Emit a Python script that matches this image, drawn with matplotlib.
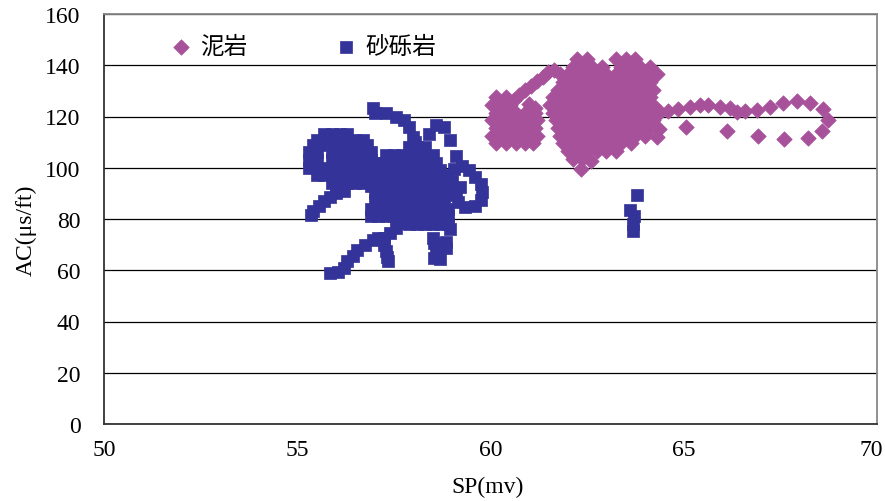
import matplotlib
matplotlib.use('Agg')
import matplotlib.pyplot as plt
from matplotlib.font_manager import FontProperties
from matplotlib.transforms import ScaledTranslation

# ---------------- data (SP in mv, AC in us/ft) ----------------
# 泥岩 (mudstone) - left blob
mud_left = [
    (60.15, 127.5), (60.4, 127.5),
    (60.05, 124.5), (60.3, 124.5), (60.5, 124.5), (61.0, 125.0), (61.15, 123.5),
    (60.15, 121.5), (60.4, 121.5), (60.65, 121.5), (60.9, 121.5), (61.15, 121.5),
    (60.05, 118.5), (60.3, 118.5), (60.55, 118.5), (60.8, 118.5), (61.05, 118.5), (61.2, 118.5),
    (60.15, 115.5), (60.4, 115.5), (60.65, 115.5), (60.9, 115.5), (61.15, 115.5),
    (60.05, 112.5), (60.3, 112.5), (60.55, 112.5), (60.8, 112.5), (61.05, 112.5), (61.2, 112.5),
    (60.15, 109.8), (60.4, 109.8), (60.65, 109.8), (60.9, 109.8), (61.1, 109.8),
]
# 泥岩 - diagonal arm
mud_arm = [
    (60.6, 126.5), (60.75, 128.5), (60.9, 130.3), (61.05, 132.0), (61.2, 133.8),
    (61.35, 135.5), (61.5, 137.2), (61.65, 138.0), (61.8, 136.5),
]
# 泥岩 - main blob
mud_main = [
    (62.25, 142.5), (62.5, 142.5), (63.25, 142.5), (63.5, 142.5), (63.75, 142.5),
    (62.125, 139.5), (62.375, 139.5), (62.625, 139.5), (62.875, 139.5), (63.375, 139.5),
    (63.625, 139.5), (63.875, 139.5), (64.125, 139.5),
    (62.0, 136.5), (62.25, 136.5), (62.5, 136.5), (62.75, 136.5), (63.0, 136.5), (63.25, 136.5),
    (63.5, 136.5), (63.75, 136.5), (64.0, 136.5), (64.3, 136.5),
    (61.875, 133.5), (62.125, 133.5), (62.375, 133.5), (62.625, 133.5), (62.875, 133.5),
    (63.125, 133.5), (63.375, 133.5), (63.625, 133.5), (63.875, 133.5), (64.125, 133.5),
    (61.75, 130.5), (62.0, 130.5), (62.25, 130.5), (62.5, 130.5), (62.75, 130.5), (63.0, 130.5),
    (63.25, 130.5), (63.5, 130.5), (63.75, 130.5), (64.0, 130.5), (64.2, 130.5),
    (61.625, 127.5), (61.875, 127.5), (62.125, 127.5), (62.375, 127.5), (62.625, 127.5),
    (62.875, 127.5), (63.125, 127.5), (63.375, 127.5), (63.625, 127.5), (63.875, 127.5), (64.125, 127.5),
    (61.55, 124.5), (61.75, 124.5), (62.0, 124.5), (62.25, 124.5), (62.5, 124.5), (62.75, 124.5),
    (63.0, 124.5), (63.25, 124.5), (63.5, 124.5), (63.75, 124.5), (64.0, 124.5), (64.2, 124.5),
    (61.625, 121.5), (61.875, 121.5), (62.125, 121.5), (62.375, 121.5), (62.625, 121.5),
    (62.875, 121.5), (63.125, 121.5), (63.375, 121.5), (63.625, 121.5), (63.875, 121.5), (64.125, 121.5),
    (61.7, 118.5), (62.0, 118.5), (62.25, 118.5), (62.5, 118.5), (62.75, 118.5), (63.0, 118.5),
    (63.25, 118.5), (63.5, 118.5), (63.75, 118.5), (64.0, 118.5), (64.2, 118.5),
    (61.75, 115.5), (61.875, 115.5), (62.125, 115.5), (62.375, 115.5), (62.625, 115.5),
    (62.875, 115.5), (63.125, 115.5), (63.375, 115.5), (63.625, 115.5), (63.875, 115.5),
    (64.125, 115.5), (64.35, 115.0),
    (61.8, 112.5), (62.0, 112.5), (62.25, 112.5), (62.5, 112.5), (62.75, 112.5), (63.0, 112.5),
    (63.25, 112.5), (63.5, 112.5), (63.75, 112.5), (64.0, 112.5), (64.3, 112.0),
    (61.875, 109.5), (62.125, 109.5), (62.375, 109.5), (62.625, 109.5), (62.875, 109.5),
    (63.125, 109.5), (63.375, 109.5), (63.625, 109.5),
    (62.0, 106.5), (62.25, 106.5), (62.5, 106.5), (62.75, 106.5), (63.0, 106.5), (63.25, 106.5),
    (62.125, 103.5), (62.375, 103.5), (62.6, 102.5), (62.35, 99.5),
]
# 泥岩 - tail to the right
mud_tail = [
    (64.39, 121.6), (64.60, 122.3), (64.86, 122.9), (65.16, 123.6), (65.42, 124.5),
    (65.64, 124.5), (65.94, 123.8), (66.20, 123.2), (66.37, 121.9), (66.58, 122.0),
    (66.89, 122.7), (67.23, 123.6), (67.58, 125.3), (67.92, 126.2), (68.27, 125.3),
    (68.59, 122.9), (68.74, 118.8), (68.57, 114.5), (68.22, 111.5), (67.59, 111.2),
    (66.93, 112.5), (66.11, 114.5), (65.06, 115.8),
]
mud_pts = mud_left + mud_arm + mud_main + mud_tail
mud_x = [p[0] for p in mud_pts]
mud_y = [p[1] for p in mud_pts]

# 砂砾岩 (glutenite) - left blob and tail
sand_left = [
    (55.7, 113), (55.9, 113), (56.1, 113), (56.3, 113),
    (55.5, 111), (55.7, 111), (55.9, 111), (56.1, 111), (56.3, 111), (56.5, 111), (56.7, 111),
    (55.4, 109), (55.6, 109), (56.0, 109), (56.2, 109), (56.4, 109), (56.6, 109), (56.8, 109),
    (55.3, 106), (55.5, 106), (55.9, 106), (56.1, 106), (56.3, 106), (56.5, 106), (56.7, 106), (56.9, 106),
    (55.3, 103), (55.5, 103), (55.9, 103), (56.1, 103), (56.3, 103), (56.5, 103), (56.7, 103), (56.9, 103),
    (55.3, 100), (55.5, 100), (55.7, 100), (55.9, 100), (56.1, 100), (56.3, 100), (56.5, 100),
    (56.7, 100), (56.9, 100),
    (55.5, 97), (55.7, 97), (55.9, 97), (56.1, 97), (56.3, 97), (56.5, 97), (56.7, 97),
    (55.9, 94), (56.1, 94), (56.3, 94), (56.5, 94), (56.7, 94),
    (56.0, 91), (56.2, 91),
    (56.0, 90), (55.85, 88.5), (55.7, 87), (55.55, 85), (55.42, 83), (55.35, 81.5),
]
# 砂砾岩 - top diagonal and small loop
sand_top = [
    (56.97, 123.5), (57.0, 121.5), (57.3, 121.5), (57.55, 120), (57.75, 118.5),
    (57.9, 116), (58.0, 112), (58.05, 110),
    (58.4, 113), (58.58, 116.5), (58.8, 116), (58.95, 111), (59.1, 104.5),
]
# 砂砾岩 - central blob
sand_center = [
    (57.9, 108), (58.1, 108), (58.3, 108),
    (57.3, 105), (57.5, 105), (57.7, 105), (57.9, 105), (58.1, 105), (58.3, 105), (58.5, 105),
    (57.0, 102), (57.2, 102), (57.4, 102), (57.6, 102), (57.8, 102), (58.0, 102), (58.2, 102),
    (58.4, 102), (58.6, 102),
    (56.9, 99), (57.1, 99), (57.3, 99), (57.5, 99), (57.7, 99), (57.9, 99), (58.1, 99), (58.3, 99),
    (58.5, 99), (58.7, 99),
    (56.9, 96), (57.1, 96), (57.3, 96), (57.5, 96), (57.7, 96), (57.9, 96), (58.1, 96), (58.3, 96),
    (58.5, 96), (58.7, 96),
    (56.9, 93), (57.1, 93), (57.3, 93), (57.5, 93), (57.7, 93), (57.9, 93), (58.1, 93), (58.3, 93),
    (58.5, 93), (58.7, 93), (58.9, 93),
    (57.0, 90), (57.2, 90), (57.4, 90), (57.6, 90), (57.8, 90), (58.0, 90), (58.2, 90), (58.4, 90),
    (58.6, 90), (58.8, 90),
    (57.0, 87), (57.2, 87), (57.4, 87), (57.6, 87), (57.8, 87), (58.0, 87), (58.2, 87), (58.4, 87),
    (58.6, 87), (58.8, 87),
    (56.9, 84), (57.1, 84), (57.3, 84), (57.5, 84), (57.7, 84), (57.9, 84), (58.1, 84), (58.3, 84),
    (58.5, 84), (58.7, 84), (58.9, 84),
    (56.9, 81), (57.1, 81), (57.3, 81), (57.5, 81), (57.7, 81), (57.9, 81), (58.1, 81), (58.3, 81),
    (58.5, 81), (58.7, 81), (58.9, 81),
    (57.9, 78), (58.1, 78), (58.3, 78), (58.5, 78), (58.7, 78), (58.9, 78), (58.95, 76),
]
# 砂砾岩 - right loop
sand_loop = [
    (58.85, 97), (59.05, 99.5), (59.25, 100.5), (59.45, 99), (59.6, 96.5), (59.75, 93.5),
    (59.78, 90.5), (59.75, 87.5), (59.6, 85), (59.35, 84.5), (59.15, 86.5), (59.1, 89.5),
    (59.2, 92.5), (59.0, 95), (58.87, 92.9),
]
# 砂砾岩 - lower groups and arm
sand_low = [
    (58.5, 72.5), (58.55, 70.5), (58.85, 71), (58.85, 68.5), (58.6, 66.5), (58.7, 64.5), (58.55, 64.8),
    (55.85, 59), (56.05, 59.5), (56.2, 61), (56.3, 63.5), (56.45, 65.5), (56.55, 68), (56.75, 70),
    (56.95, 72), (57.1, 72.5), (57.25, 72.5), (57.4, 74.5), (57.55, 76.5), (57.65, 78.5), (57.75, 80.5),
    (57.25, 70), (57.3, 67.5), (57.32, 65), (57.35, 63.5),
    (63.78, 89.2), (63.62, 83.5), (63.7, 81), (63.68, 78), (63.68, 75.5),
]
sand_pts = sand_left + sand_top + sand_center + sand_loop + sand_low
sand_x = [p[0] for p in sand_pts]
sand_y = [p[1] for p in sand_pts]

series_names = ['泥岩', '砂砾岩']
x_ticks = [50, 55, 60, 65, 70]
y_ticks = [0, 20, 40, 60, 80, 100, 120, 140, 160]

# ---------------- plot ----------------
W, H = 885, 502
fig = plt.figure(figsize=(W / 100, H / 100), dpi=100)
L, R, T, B = 104, 877, 15, 425
ax = fig.add_axes([L / W, 1 - B / H, (R - L) / W, (B - T) / H])

mud_color = '#A8519B'
sand_color = '#333399'

h_mud = ax.scatter(mud_x, mud_y, marker='D', s=62, c=mud_color, edgecolors=mud_color,
                   linewidths=0.5, zorder=3, label=series_names[0])
h_sand = ax.scatter(sand_x, sand_y, marker='s', s=68, c=sand_color, edgecolors=sand_color,
                    linewidths=0.5, zorder=3, label=series_names[1])

ax.set_xlim(50, 70)
ax.set_ylim(0, 160)
ax.set_xticks(x_ticks)
ax.set_yticks(y_ticks)
serif = 'Liberation Serif'
ax.set_xticklabels([str(v) for v in x_ticks], fontfamily=serif, fontsize=17)
ax.set_yticklabels([str(v) for v in y_ticks], fontfamily=serif, fontsize=17)
ax.tick_params(axis='both', length=0)
ax.tick_params(axis='y', pad=17)
ax.tick_params(axis='x', pad=11)
last = ax.get_xticklabels()[-1]
last.set_transform(last.get_transform() + ScaledTranslation(-0.06, 0, fig.dpi_scale_trans))

ax.yaxis.grid(True, color='black', linewidth=0.9)
ax.set_axisbelow(True)

ax.spines['left'].set_color('#333333')
ax.spines['bottom'].set_color('#333333')
ax.spines['top'].set_color('#888888')
ax.spines['right'].set_color('#888888')
for s in ax.spines.values():
    s.set_linewidth(1.3)

ax.set_xlabel('SP(mv)', fontfamily=serif, fontsize=17)
ax.set_ylabel('AC(μs/ft)', fontfamily=serif, fontsize=17)
ax.xaxis.set_label_coords((488 - L) / (R - L), (B - 477) / (B - T))
ax.yaxis.set_label_coords((37 - L) / (R - L), (B - 230) / (B - T))

leg = ax.legend(handles=[h_mud, h_sand], loc='upper left',
                bbox_to_anchor=((171.5 - L) / (R - L), (B - 36) / (B - T)),
                ncol=2, frameon=False, borderaxespad=0, borderpad=0,
                handlelength=0.8, handletextpad=0.4, columnspacing=3.8, scatterpoints=1,
                prop=FontProperties(family=['Noto Sans CJK SC', 'DejaVu Sans'], size=17))

fig.savefig('out.png', dpi=100)
